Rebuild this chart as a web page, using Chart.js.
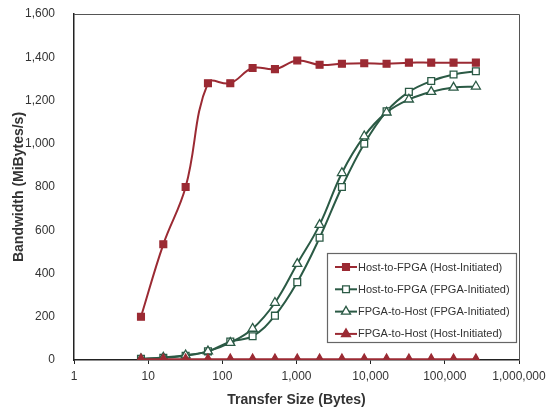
<!DOCTYPE html>
<html>
<head>
<meta charset="utf-8">
<script src="https://cdn.jsdelivr.net/npm/chart.js@4/dist/chart.umd.min.js"></script>
<style>
html,body{margin:0;padding:0;background:#fff;}
#wrap{width:549px;height:409px;}
</style>
</head>
<body>
<div id="wrap"><canvas id="bwGraph" width="549" height="409"></canvas></div>
<script>
var sizes=[8,16,32,64,128,256,512,1024,2048,4096,8192,16384,32768,65536,131072,262144];
var h2fHost=[200,535,800,1280,1280,1350,1345,1385,1365,1370,1372,1370,1375,1375,1375,1375];
var h2fFpga=[5,10,20,40,85,110,205,360,565,800,1000,1150,1240,1290,1320,1335];
var f2hFpga=[5,12,22,40,80,145,265,445,625,865,1035,1145,1205,1240,1260,1265];
var f2hHost=[3,3,3,3,3,3,3,3,3,3,3,3,3,3,3,3];
var xTicks=[1,10,100,1000,10000,100000,1000000];
var yTicks=[0,200,400,600,800,1000,1200,1400,1600];
var seriesNames=["Host-to-FPGA (Host-Initiated)","Host-to-FPGA (FPGA-Initiated)","FPGA-to-Host (FPGA-Initiated)","FPGA-to-Host (Host-Initiated)"];

var red="#9b2a33";
var green="#2b5a45";
var font="'Liberation Sans', Arial, sans-serif";

function toPoints(arr){
	var out=[];
	for(var i=0;i<arr.length;i++){
		out.push({x:sizes[i],y:arr[i]});
	}
	return out;
}

function makeSet(label,arr,color,style,filled){
	return {
		label:label,
		data:toPoints(arr),
		borderColor:color,
		backgroundColor:filled?color:"#ffffff",
		borderWidth:2,
		pointStyle:style,
		pointRadius:style=="rect"?4.8:5.2,
		pointBorderWidth:1.3,
		pointBackgroundColor:filled?color:"#ffffff",
		pointBorderColor:color,
		tension:0.4,
		fill:false
	};
}

// frame + legend box drawn inside the plot area
var boxPlugin={
	id:"boxPlugin",
	afterDatasetsDraw:function(chart){
		var ctx=chart.ctx;
		var a=chart.chartArea;
		ctx.save();
		ctx.strokeStyle="#555";
		ctx.lineWidth=1;
		ctx.beginPath();
		ctx.moveTo(a.left,a.top+0.5);
		ctx.lineTo(a.right+0.5,a.top+0.5);
		ctx.lineTo(a.right+0.5,a.bottom);
		ctx.stroke();

		var lx=327,ly=253,lw=189,lh=89;
		ctx.fillStyle="#fff";
		ctx.fillRect(lx,ly,lw,lh);
		ctx.strokeStyle="#666";
		ctx.lineWidth=1.2;
		ctx.strokeRect(lx+0.5,ly+0.5,lw,lh);
		ctx.font="11px "+font;
		ctx.textBaseline="middle";
		var sets=chart.data.datasets;
		for(var i=0;i<sets.length;i++){
			var ds=sets[sets.length-1-i];
			var yy=ly+14+i*22.3;
			ctx.strokeStyle=ds.borderColor;
			ctx.lineWidth=2;
			ctx.beginPath();
			ctx.moveTo(lx+8,yy);
			ctx.lineTo(lx+30,yy);
			ctx.stroke();
			ctx.fillStyle=ds.pointBackgroundColor;
			ctx.lineWidth=1.3;
			Chart.helpers.drawPoint(ctx,{pointStyle:ds.pointStyle,radius:ds.pointRadius,borderWidth:1.3},lx+19,yy);
			ctx.fillStyle="#333";
			ctx.fillText(ds.label,lx+31,yy+0.5);
		}
		ctx.restore();
	}
};

var ctx=document.getElementById("bwGraph").getContext("2d");
var bwChart=new Chart(ctx,{
	type:"line",
	data:{
		datasets:[
			makeSet(seriesNames[3],f2hHost,red,"triangle",true),
			makeSet(seriesNames[2],f2hFpga,green,"triangle",false),
			makeSet(seriesNames[1],h2fFpga,green,"rect",false),
			makeSet(seriesNames[0],h2fHost,red,"rect",true)
		]
	},
	options:{
		responsive:false,
		animation:false,
		layout:{padding:{left:11,top:14,right:30,bottom:0}},
		plugins:{legend:{display:false},tooltip:{enabled:false}},
		scales:{
			x:{
				type:"logarithmic",
				min:1,max:1000000,
				afterBuildTicks:function(scale){
					scale.ticks=xTicks.map(function(v){return {value:v};});
				},
				afterFit:function(scale){
					scale.height=49;
					scale.paddingLeft=0;
					scale.paddingRight=0;
				},
				border:{display:true,color:"#222",width:1.5},
				grid:{drawOnChartArea:false,drawTicks:true,tickLength:4,tickColor:"#222"},
				ticks:{
					autoSkip:false,maxRotation:0,padding:5,
					color:"#333",font:{family:font,size:12},
					callback:function(v){return Number(v).toLocaleString("en-US");}
				},
				title:{display:true,text:"Transfer Size (Bytes)",color:"#333",font:{family:font,size:14,weight:"bold"},padding:{top:3,bottom:0}}
			},
			y:{
				min:0,max:1600,
				afterBuildTicks:function(scale){
					scale.ticks=yTicks.map(function(v){return {value:v};});
				},
				afterFit:function(scale){
					scale.width=63;
					scale.paddingTop=0;
					scale.paddingBottom=0;
				},
				border:{display:true,color:"#222",width:1.5},
				grid:{display:false},
				ticks:{
					padding:11,color:"#333",font:{family:font,size:12},
					callback:function(v){return Number(v).toLocaleString("en-US");}
				},
				title:{display:true,text:"Bandwidth (MiBytes/s)",color:"#333",font:{family:font,size:14,weight:"bold"},padding:{top:0,bottom:0}}
			}
		}
	},
	plugins:[boxPlugin]
});
</script>
</body>
</html>
